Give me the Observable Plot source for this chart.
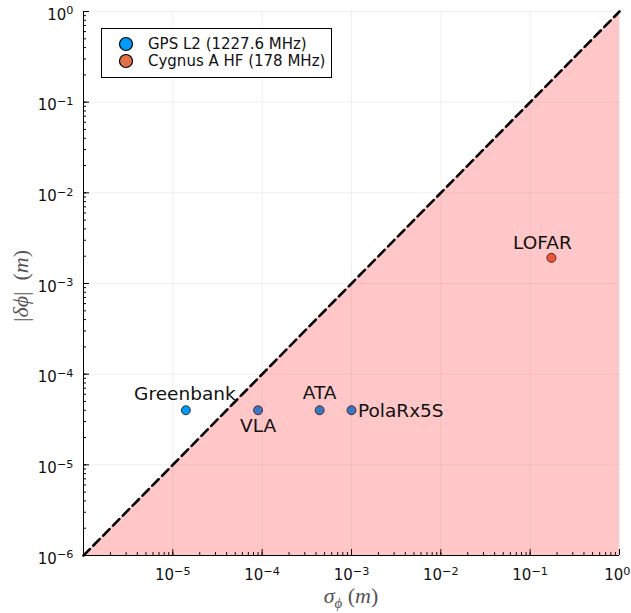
<!DOCTYPE html>
<html><head><meta charset="utf-8">
<script src="https://cdn.jsdelivr.net/npm/d3@7"></script>
<script src="https://cdn.jsdelivr.net/npm/@observablehq/plot@0.6"></script>
<style>body{margin:0;background:#fff} svg{display:block}</style>
</head><body><div id="chart"></div>
<script>
// ---- data ----
const names  = ["Greenbank", "VLA", "ATA", "PolaRx5S", "LOFAR"];
const sigma  = [1.4e-5, 9.0e-5, 4.4e-4, 1.0e-3, 0.173];
const delta  = [4.0e-5, 4.0e-5, 4.0e-5, 4.0e-5, 1.92e-3];
const source = ["GPS L2 (1227.6 MHz)", "GPS L2 (1227.6 MHz)", "GPS L2 (1227.6 MHz)", "GPS L2 (1227.6 MHz)", "Cygnus A HF (178 MHz)"];
const seriesNames = ["GPS L2 (1227.6 MHz)", "Cygnus A HF (178 MHz)"];
const domainLims = [1e-6, 1];
const xTicks = [1e-5, 1e-4, 1e-3, 1e-2, 1e-1, 1];
const xTickLabels = ["10^−5", "10^−4", "10^−3", "10^−2", "10^−1", "10^0"];
const yTicks = [1e-6, 1e-5, 1e-4, 1e-3, 1e-2, 1e-1, 1];
const yTickLabels = ["10^−6", "10^−5", "10^−4", "10^−3", "10^−2", "10^−1", "10^0"];

// ---- styles ----
const seriesColors = ["#009AFA", "#E36F47"];
const labelPlacement = {
  "Greenbank": {dx: -1, dy: -16.5, anchor: "middle"},
  "VLA":       {dx: 0,  dy: 16,    anchor: "middle"},
  "ATA":       {dx: 0,  dy: -17.5, anchor: "middle"},
  "PolaRx5S":  {dx: 6.5, dy: 1,    anchor: "start"},
  "LOFAR":     {dx: -9, dy: -15,   anchor: "middle"}
};

const data = names.map((n, i) => ({name: n, sigma: sigma[i], delta: delta[i], source: source[i]}));
const minorTicks = d3.scaleLog().domain(domainLims).ticks();
const fmtX = d => xTickLabels[xTicks.indexOf(d)];
const fmtY = d => yTickLabels[yTicks.indexOf(d)];

const textMarks = data.map(d => {
  const p = labelPlacement[d.name];
  return Plot.text([d], {x: "sigma", y: "delta", text: "name", dx: p.dx, dy: p.dy,
    textAnchor: p.anchor, fontSize: 18.5, fill: "#111"});
});

const svg = Plot.plot({
  width: 631, height: 613,
  marginLeft: 83, marginRight: 12, marginTop: 11, marginBottom: 58,
  style: {fontFamily: "DejaVu Sans", background: "white"},
  x: {type: "log", domain: domainLims},
  y: {type: "log", domain: domainLims},
  color: {domain: seriesNames, range: seriesColors},
  marks: [
    Plot.gridX(xTicks, {stroke: "#000", strokeOpacity: 0.1, strokeWidth: 0.6}),
    Plot.gridY(yTicks, {stroke: "#000", strokeOpacity: 0.1, strokeWidth: 0.6}),
    Plot.dot(data, {x: "sigma", y: "delta", fill: "source", r: 4.5, stroke: "#222", strokeWidth: 0.9}),
    Plot.ruleX([domainLims[0]], {stroke: "#000", strokeWidth: 1}),
    Plot.ruleY([domainLims[0]], {stroke: "#000", strokeWidth: 1}),
    Plot.axisX(minorTicks, {tickSize: -3, tickFormat: () => "", label: null}),
    Plot.axisX(xTicks, {tickSize: -6, tickFormat: () => "", label: null}),
    Plot.axisY(minorTicks, {tickSize: -3, tickFormat: () => "", label: null}),
    Plot.axisY(yTicks, {tickSize: -6, tickFormat: () => "", label: null}),
    Plot.axisX(xTicks, {tickSize: 0, tickPadding: 14, tickFormat: fmtX, label: null, fontSize: 15, fill: "#111"}),
    Plot.axisY(yTicks, {tickSize: 0, tickPadding: 10, tickFormat: fmtY, label: null, fontSize: 15, dy: 3.5, fill: "#111"}),
    Plot.areaY(domainLims, {x: d => d, y1: domainLims[0], y2: d => d, fill: "red", fillOpacity: 0.22}),
    Plot.line(domainLims, {x: d => d, y: d => d, stroke: "black", strokeWidth: 2.6, strokeDasharray: "9,5"}),
    ...textMarks
  ]
});

// superscript tick labels
d3.select(svg).selectAll('g[aria-label$="tick label"] text').each(function () {
  const t = this.textContent;
  const m = t.match(/^10\^(.+)$/);
  if (!m) return;
  const sel = d3.select(this);
  sel.text(null);
  sel.append("tspan").text("10");
  sel.append("tspan").attr("dy", "-0.5em").attr("font-size", "0.75em").text(m[1]);
  if (m[1] === "0" && this.closest('g[aria-label="x-axis tick label"]')) {
    sel.attr("text-anchor", "end").attr("dx", 11);
  }
});

const s = d3.select(svg);
// axis titles (math style)
const mathFont = "Liberation Serif";
const xl = s.append("text").attr("x", 351).attr("y", 603).attr("text-anchor", "middle")
  .attr("font-family", mathFont).attr("font-size", 22).attr("fill", "#555");
xl.append("tspan").attr("font-style", "italic").text("σ");
xl.append("tspan").attr("font-style", "italic").attr("font-size", 15).attr("dy", 5).text("ϕ");
xl.append("tspan").attr("dy", -5).text(" (");
xl.append("tspan").attr("font-style", "italic").text("m");
xl.append("tspan").text(")");

const yl = s.append("text").attr("transform", "translate(28,286) rotate(-90)").attr("text-anchor", "middle")
  .attr("font-family", mathFont).attr("font-size", 22).attr("fill", "#555");
yl.append("tspan").text("|");
yl.append("tspan").attr("font-style", "italic").text("δϕ");
yl.append("tspan").text("|  (");
yl.append("tspan").attr("font-style", "italic").text("m");
yl.append("tspan").text(")");

// legend
const lg = s.append("g").attr("font-family", "DejaVu Sans").attr("font-size", 15).attr("text-anchor", "start");
lg.append("rect").attr("x", 101.5).attr("y", 28.5).attr("width", 230).attr("height", 49)
  .attr("fill", "white").attr("stroke", "black").attr("stroke-width", 1);
seriesNames.forEach((n, i) => {
  const cy = 44 + i * 17;
  lg.append("circle").attr("cx", 126).attr("cy", cy).attr("r", 6.5)
    .attr("fill", seriesColors[i]).attr("stroke", "black").attr("stroke-width", 1.2);
  lg.append("text").attr("x", 148).attr("y", cy).attr("dy", "0.35em").attr("text-anchor", "start")
    .attr("fill", "#111").text(n);
});

document.getElementById("chart").appendChild(svg);
</script>
</body></html>
